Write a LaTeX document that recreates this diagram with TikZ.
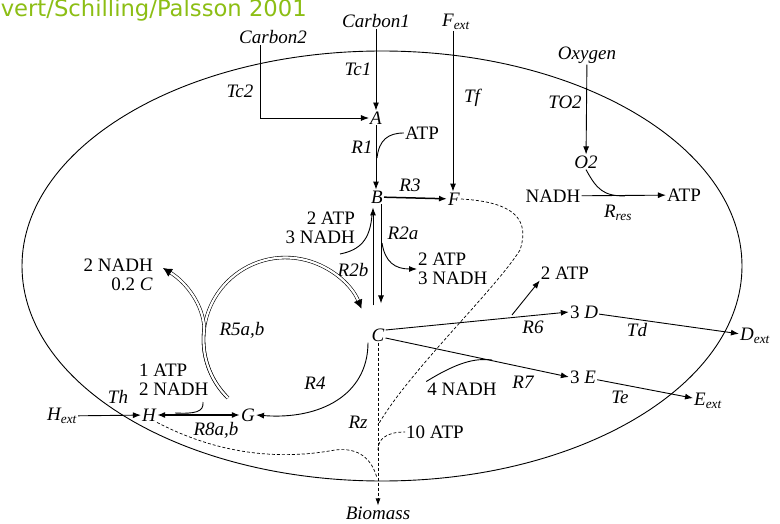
\documentclass[tikz,border=0pt]{standalone}
\usepackage{fontspec}
\setmainfont{Liberation Serif}
\newfontfamily\titlefont{DejaVu Sans}
\usetikzlibrary{arrows.meta}
\definecolor{titlegreen}{RGB}{140,190,20}
\tikzset{
  lbl/.style={font=\fontsize{19}{19}\selectfont\itshape, inner sep=1pt},
  txt/.style={font=\fontsize{19}{19}\selectfont, inner sep=1pt},
  arr/.style={line width=0.9pt, -{Latex[length=8pt,width=6pt]}},
  plain/.style={line width=0.9pt},
  dsh/.style={line width=0.7pt, dash pattern=on 3pt off 2pt},
  dbl/.style={line width=0.6pt, double, double distance=2.2pt, -{Latex[length=9pt,width=9pt]}},
}
\begin{document}
\begin{tikzpicture}[x=1pt,y=-1pt]
\useasboundingbox (0,0) rectangle (780,524);
% title
\node[anchor=base east, inner sep=0, text=titlegreen, font=\titlefont\fontsize{22.7}{24}\selectfont] (title) at (307,17) {Covert/Schilling/Palsson 2001};
% cell
\draw[line width=0.9pt] (382,266) ellipse [x radius=360pt, y radius=215pt];
% nodes
\node[lbl] (Carbon1) at (376,21) {Carbon1};
\node[lbl] (Carbon2) at (273,37) {Carbon2};
\node[lbl] (Fext) at (456,22) {F\textsubscript{ext}};
\node[lbl] (Oxygen) at (587,55) {Oxygen};
\node[lbl] (Tc1) at (358,69) {Tc1};
\node[lbl] (Tc2) at (240,91) {Tc2};
\node[lbl] (Tf) at (472,98) {Tf};
\node[lbl] (TO2) at (565,102) {TO2};
\node[lbl] (A) at (376,118) {A};
\node[lbl] (R1) at (362,147) {R1};
\node[txt] (ATPa) at (422,133) {ATP};
\node[lbl] (B) at (377,197) {B};
\node[lbl] (R3) at (410,185) {R3};
\node[lbl] (F) at (454,199) {F};
\node[lbl] (O2) at (586,162) {O2};
\node[txt] (NADHr) at (553,196) {NADH};
\node[txt] (ATPr) at (684,195) {ATP};
\node[lbl] (Rres) at (618,213) {R\textsubscript{res}};
\node[lbl] (R2a) at (403,233) {R2a};
\node[lbl] (R2b) at (353,270) {R2b};
\node[txt, align=right, anchor=east] (L2) at (356,228) {2 ATP\\3 NADH};
\node[txt, align=left, anchor=west] (R2out) at (417,269) {2 ATP\\3 NADH};
\node[txt, align=right, anchor=east] (NADH5) at (154,275) {2 NADH\\0.2 \textit{C}};
\node[lbl] (R5ab) at (242,330) {R5a,b};
\node[lbl] (C) at (378,335) {C};
\node[txt] (ATP6) at (565,273) {2 ATP};
\node[txt] (D3) at (584,312) {3 \textit{D}};
\node[lbl] (R6) at (533,327) {R6};
\node[lbl] (Td) at (637,330) {Td};
\node[lbl] (Dext) at (755,336) {D\textsubscript{ext}};
\node[lbl] (R7) at (523,382) {R7};
\node[txt] (E3) at (583,377) {3 \textit{E}};
\node[txt] (NADH7) at (462,389) {4 NADH};
\node[lbl] (Te) at (620,397) {Te};
\node[lbl] (Eext) at (708,401) {E\textsubscript{ext}};
\node[lbl] (R4) at (315,383) {R4};
\node[lbl] (Hext) at (62,416) {H\textsubscript{ext}};
\node[lbl] (Th) at (118,397) {Th};
\node[lbl] (H) at (149,415) {H};
\node[lbl] (G) at (248,415) {G};
\node[lbl] (R8ab) at (216,430) {R8a,b};
\node[txt, align=left, anchor=west] (L8) at (138,380) {1 ATP\\2 NADH};
\node[lbl] (Rz) at (358,422) {Rz};
\node[txt] (ATP10) at (435,432) {10 ATP};
\node[lbl] (Biomass) at (378,513) {Biomass};
% coordinates
\coordinate (r1j) at (377,158);
\coordinate (o2j) at (625,196);
\coordinate (r2aj) at (382,243);
\coordinate (r2bj) at (372,215);
\coordinate (r5s) at (228,398);
\coordinate (r6j) at (512,315);
\coordinate (r7j) at (492,360);
\coordinate (r8s) at (203,402);
\coordinate (r8j) at (175,413);
\coordinate (fz) at (378,425);
\coordinate (hz) at (377,478);
\coordinate (az) at (378,450);
% transports
\draw[arr] (Carbon1) -- (A);
\draw[arr] ([xshift=-13pt]Carbon2.south) |- (A.west);
\draw[arr] ([xshift=-3pt]Fext.south) -- ([xshift=-3pt]Fext.south |- F.north);
\draw[arr] (Oxygen) -- (O2);
\draw[arr] (Hext) -- (H);
\draw[arr] (D3) -- (Dext);
\draw[arr] (E3) -- (Eext);
% reactions
\draw[arr] (A.south) -- (A.south |- B.north);
\draw[plain] (r1j) .. controls (379,140) and (388,133) .. (ATPa.west);
\draw[arr, line width=1.5pt] (B) -- (F);
\draw[arr] (NADHr) -- (ATPr);
\draw[plain] (O2.south) .. controls (597,190) and (604,196) .. (o2j);
\draw[arr] ([xshift=4pt]B.south) -- ([xshift=4pt,yshift=24pt]B.south |- C.north);
\draw[arr] ([xshift=-4pt,yshift=22pt]B.south |- C.north) -- ([xshift=-4pt,yshift=-3pt]B.south);
\draw[arr] (r2aj) .. controls (385,262) and (395,269) .. (R2out.west);
\draw[plain] (r2bj) .. controls (370,240) and (360,250) .. (340,254);
\draw[dbl] (r5s) arc[start angle=225.5, end angle=22, radius=82pt];
\draw[dbl] (r5s) arc[start angle=225.5, end angle=172, radius=82pt] .. controls (203,305) and (187,283) .. (163,268);
\draw[arr] ([xshift=-10pt]C.south) .. controls (368,395) and (320,420) .. (G.east);
\draw[{Latex[length=8pt,width=6pt]}-{Latex[length=8pt,width=6pt]}, line width=1.5pt] (H) -- (G);
\draw[plain] (r8s) .. controls (204,412) and (195,414) .. (r8j);
\draw[arr] ([yshift=5pt]C.east) -- (D3.west);
\draw[arr] (r6j) -- (ATP6.south west);
\draw[arr] ([yshift=-3pt]C.east) -- (E3.west);
\draw[plain] (NADH7.north west) .. controls (458,362) and (475,358) .. (r7j);
% biomass
\draw[dsh, -{Latex[length=7pt,width=5pt]}] (C.south) -- (Biomass.north);
\draw[dsh] (F.east) .. controls (515,202) and (530,220) .. (520,250) .. controls (495,290) and (410,370) .. (fz);
\draw[dsh] (H.south east) .. controls (210,450) and (270,462) .. (335,450) .. controls (360,447) and (372,460) .. (hz);
\draw[dsh] (az) .. controls (378,440) and (385,432) .. (ATP10.west);
\end{tikzpicture}
\end{document}
